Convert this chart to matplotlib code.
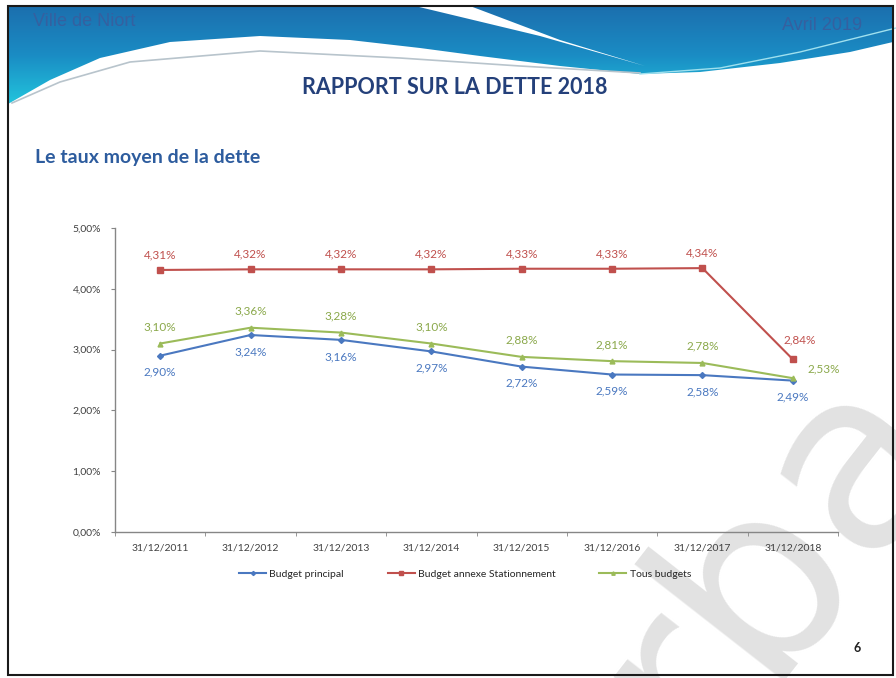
import numpy as np
import matplotlib
matplotlib.use('Agg')
import matplotlib.pyplot as plt
from matplotlib.patches import Polygon, Rectangle
from matplotlib.colors import LinearSegmentedColormap

plt.rcParams['font.family'] = ['Lato', 'DejaVu Sans']

# -- données ---------------------------------------------------------------
dates = ['31/12/2011', '31/12/2012', '31/12/2013', '31/12/2014',
         '31/12/2015', '31/12/2016', '31/12/2017', '31/12/2018']
budget_principal = [2.90, 3.24, 3.16, 2.97, 2.72, 2.59, 2.58, 2.49]
budget_annexe    = [4.31, 4.32, 4.32, 4.32, 4.33, 4.33, 4.34, 2.84]
tous_budgets     = [3.10, 3.36, 3.28, 3.10, 2.88, 2.81, 2.78, 2.53]
y_ticks = [0, 1, 2, 3, 4, 5]

BLUE, RED, GREEN = '#4a78c0', '#c0504d', '#9bbb59'

W, H = 896, 678
fig = plt.figure(figsize=(W / 100, H / 100), dpi=100)
fig.patch.set_facecolor('white')

# -- fond de la diapositive (en pixels) --------------------------------------
bg = fig.add_axes([0, 0, 1, 1], zorder=0)
bg.set_xlim(0, W)
bg.set_ylim(H, 0)
bg.axis('off')

band = [(8, 6), (893, 6), (893, 42), (850, 52), (780, 63), (700, 72),
        (640, 74), (560, 66), (480, 56), (420, 48), (350, 40), (260, 36),
        (170, 42), (100, 58), (50, 80), (8, 104)]
band_patch = Polygon(band, closed=True, facecolor='none', edgecolor='none')
bg.add_patch(band_patch)
cmap = LinearSegmentedColormap.from_list('bleu', ['#1c6fae', '#1a8cc4', '#22c4dc'])
grad = np.linspace(0, 1, 200).reshape(-1, 1) * np.ones((1, 2))
img = bg.imshow(grad, cmap=cmap, extent=(8, 893, 104, 6), aspect='auto',
                interpolation='bilinear', zorder=1)
img.set_clip_path(band_patch)

# lame blanche en diagonale
bg.add_patch(Polygon([(415, 6), (470, 6), (560, 40), (645, 66), (540, 36)],
                     closed=True, facecolor='white', edgecolor='none', zorder=2))
# filets clairs
xs = np.array([12, 60, 130, 260, 400, 520, 640])
ys = np.array([103, 82, 62, 51, 58, 66, 73])
bg.plot(xs, ys, color='#b8c4cc', lw=1.2, zorder=2)
bg.plot([640, 720, 800, 896], [74, 68, 52, 28], color='#9fe0ee', lw=1.0, zorder=2)

bg.text(33, 22, 'Ville de Niort', fontsize=13, color='#3560a0',
        family='Liberation Sans', va='center', ha='left', zorder=3)
bg.text(862, 25, 'Avril 2019', fontsize=13, color='#3560a0',
        family='Liberation Sans', va='center', ha='right', zorder=3)
bg.text(455, 88, 'RAPPORT SUR LA DETTE 2018', fontsize=15.5, fontweight='bold',
        color='#24407a', va='center', ha='center', zorder=3)
bg.text(35, 157, 'Le taux moyen de la dette', fontsize=14, fontweight='bold',
        color='#2d5c9e', va='center', ha='left', zorder=3)
bg.text(857, 648, '6', fontsize=9, fontweight='bold', color='#222222',
        va='center', ha='center', zorder=3)
bg.add_patch(Rectangle((8, 6), 885, 669, fill=False, edgecolor='#1a1a1a',
                       lw=1.5, zorder=4))

# filigrane (sous le graphique)
bg.text(772, 556, 'rba', fontsize=180, color='#e2e2e2', rotation=52,
        ha='center', va='center', family='DejaVu Sans', zorder=1,
        rotation_mode='anchor', clip_on=True)

# -- graphique --------------------------------------------------------------
ax = fig.add_axes([115 / W, 1 - 532 / H, (838 - 115) / W, (532 - 228) / H],
                  zorder=1)
ax.patch.set_alpha(0)
x = np.arange(len(dates))

l1, = ax.plot(x, budget_principal, color=BLUE, lw=1.5, marker='D', ms=3,
              label='Budget principal')
l2, = ax.plot(x, budget_annexe, color=RED, lw=1.5, marker='s', ms=4.5,
              label='Budget annexe Stationnement')
l3, = ax.plot(x, tous_budgets, color=GREEN, lw=1.5, marker='^', ms=3.5,
              label='Tous budgets')

def pct(v):
    return f'{v:.2f}%'.replace('.', ',')

n = len(dates)
for i, v in enumerate(budget_annexe):
    off = (5, 14) if i == n - 1 else (0, 11)
    ax.annotate(pct(v), (i, v), xytext=off, textcoords='offset points',
                ha='center', va='center', fontsize=8.5, color=RED)
for i, v in enumerate(tous_budgets):
    off = (22, 7) if i == n - 1 else (0, 12)
    ax.annotate(pct(v), (i, v), xytext=off, textcoords='offset points',
                ha='center', va='center', fontsize=8.5, color='#8aa84a')
for i, v in enumerate(budget_principal):
    ax.annotate(pct(v), (i, v), xytext=(0, -12), textcoords='offset points',
                ha='center', va='center', fontsize=8.5, color=BLUE)

ax.set_xlim(-0.5, n - 0.5)
ax.set_ylim(0, 5)
ax.set_yticks(y_ticks)
ax.set_yticklabels([pct(v) for v in y_ticks], fontsize=7.5, color='#404040')
ax.set_xticks(x)
ax.set_xticklabels(dates, fontsize=7.5, color='#404040')
ax.set_xticks(np.arange(n + 1) - 0.5, minor=True)
ax.tick_params(axis='x', which='major', length=0, pad=8)
ax.tick_params(axis='x', which='minor', length=3, color='#868686')
ax.tick_params(axis='y', length=3, color='#868686', pad=7)
for s in ['top', 'right']:
    ax.spines[s].set_visible(False)
for s in ['left', 'bottom']:
    ax.spines[s].set_color('#868686')
    ax.spines[s].set_linewidth(1.0)

leg = fig.legend(handles=[l1, l2, l3], loc='center',
                 bbox_to_anchor=(465 / W, 1 - 574 / H), ncol=3, frameon=False,
                 fontsize=7.5, handlelength=2.6, columnspacing=4.2,
                 handletextpad=0.3, markerscale=0.7)
for t in leg.get_texts():
    t.set_color('#262626')

fig.savefig('out.png', dpi=100)
